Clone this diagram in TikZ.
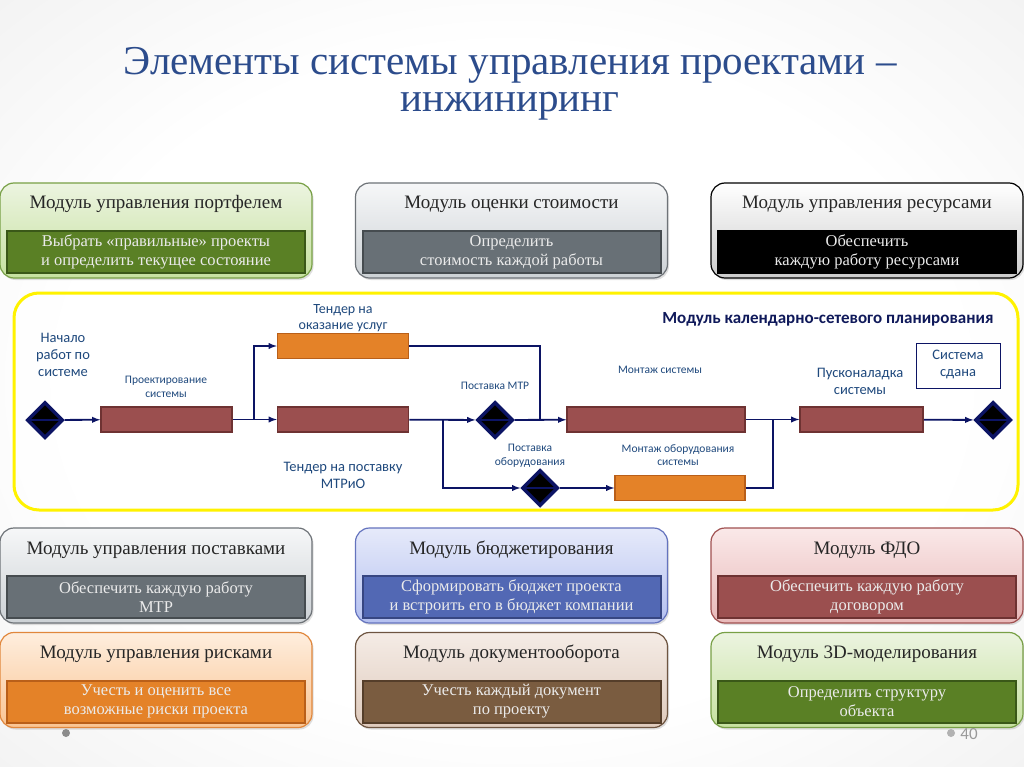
\documentclass[tikz,border=0pt]{standalone}
\usepackage{fontspec}
\setmainfont{Liberation Serif}
\newfontfamily\calib{Carlito}
\usetikzlibrary{shapes.geometric,shadows}
\definecolor{titleblue}{RGB}{44,76,140}
\definecolor{navy}{RGB}{12,20,100}
\definecolor{labblue}{RGB}{31,73,125}
\definecolor{kspblue}{RGB}{15,25,90}
\definecolor{brick}{RGB}{155,79,79}
\definecolor{brickdark}{RGB}{110,50,50}
\definecolor{tangerine}{RGB}{228,130,40}
\definecolor{tangerinedark}{RGB}{185,95,25}
\pgfdeclareradialshading{slidebg}{\pgfpoint{0bp}{0bp}}{%
  color(0bp)=(white); color(22bp)=(white); color(42bp)=(black!7); color(56bp)=(black!16); color(72bp)=(black!24)}
\tikzset{>=latex}
\tikzset{
  modbox/.style = {rounded corners=14, line width=1.2, minimum width=312, minimum height=95,
    inner sep=0, drop shadow={opacity=0.25, shadow xshift=1.5pt, shadow yshift=-2pt}},
  modtitle/.style = {anchor=base, font=\fontsize{19}{22}\selectfont, text=black!85},
  modbar/.style = {minimum width=298, minimum height=42, inner sep=0, line width=2,
    align=center, text=white!92!black, font=\fontsize{16.5}{19}\selectfont},
  greenbox/.style = {top color={rgb,255:red,236;green,244;blue,224}, bottom color={rgb,255:red,198;green,225;blue,160}, draw={rgb,255:red,120;green,160;blue,70}},
  greenbar/.style = {fill={rgb,255:red,90;green,128;blue,37}, draw={rgb,255:red,58;green,88;blue,24}},
  graybox/.style = {top color={rgb,255:red,246;green,247;blue,248}, bottom color={rgb,255:red,204;green,209;blue,213}, draw={rgb,255:red,110;green,115;blue,120}},
  graybar/.style = {fill={rgb,255:red,104;green,112;blue,118}, draw={rgb,255:red,70;green,76;blue,80}},
  blackbox/.style = {top color=white, bottom color=black!20, draw=black},
  blackbar/.style = {fill=black, draw=black},
  bluebox/.style = {top color={rgb,255:red,230;green,234;blue,250}, bottom color={rgb,255:red,180;green,192;blue,240}, draw={rgb,255:red,100;green,115;blue,190}},
  bluebar/.style = {fill={rgb,255:red,82;green,104;blue,180}, draw={rgb,255:red,55;green,70;blue,130}},
  pinkbox/.style = {top color={rgb,255:red,250;green,232;blue,232}, bottom color={rgb,255:red,232;green,185;blue,185}, draw={rgb,255:red,160;green,80;blue,80}},
  pinkbar/.style = {fill=brick, draw=brickdark},
  orangebox/.style = {top color={rgb,255:red,254;green,238;blue,222}, bottom color={rgb,255:red,250;green,196;blue,146}, draw={rgb,255:red,225;green,135;blue,60}},
  orangebar/.style = {fill=tangerine, draw=tangerinedark},
  brownbox/.style = {top color={rgb,255:red,245;green,236;blue,230}, bottom color={rgb,255:red,222;green,202;blue,188}, draw={rgb,255:red,110;green,85;blue,65}},
  brownbar/.style = {fill={rgb,255:red,122;green,92;blue,64}, draw={rgb,255:red,85;green,62;blue,42}},
  task/.style = {rectangle, minimum width=131, minimum height=25, inner sep=0, line width=1.5, fill=brick, draw=brickdark},
  tendertask/.style = {task, fill=tangerine, draw=tangerinedark},
  event/.style = {diamond, minimum size=36, inner sep=0, fill=black, draw=navy, line width=3.5,
    path picture={\draw[navy, line width=1.8] (path picture bounding box.west) -- (path picture bounding box.east);}},
  flow/.style = {draw=navy, line width=1.8},
  biglab/.style = {font=\calib\fontsize{14.5}{17}\selectfont, text=labblue, align=center},
  smalllab/.style = {font=\calib\fontsize{11.5}{13.5}\selectfont, text=labblue, align=center}
}
% module: name, x, y, colour, title, task
\newcommand{\modul}[6]{%
  \node[modbox,#4box] (#1) at (#2,#3) {};
  \node[modtitle] (#1-t) at (#2,#3-21.5) {#5};
  \node[modbar,#4bar] (#1-b) at (#2,#3+21.5) {#6};
}

\begin{document}
\begin{tikzpicture}[x=1pt,y=-1pt]
  \useasboundingbox (0,0) rectangle (1024,767);
  \shade[shading=slidebg] (0,0) rectangle (1024,767);
  % title
  \node[font=\fontsize{41}{37}\selectfont, text=titleblue, align=center] (title) at (510,84)
    {Элементы системы управления проектами –\\инжиниринг};
  % modules
  \modul{portf}{156}{230.5}{green}{Модуль управления портфелем}{Выбрать «правильные» проекты\\и определить текущее состояние}
  \modul{cost}{511.5}{230.5}{gray}{Модуль оценки стоимости}{Определить\\стоимость каждой работы}
  \modul{res}{867}{230.5}{black}{Модуль управления ресурсами}{Обеспечить\\каждую работу ресурсами}
  \modul{supl}{156}{575.5}{gray}{Модуль управления поставками}{Обеспечить каждую работу\\МТР}
  \modul{budg}{511.5}{575.5}{blue}{Модуль бюджетирования}{Сформировать бюджет проекта\\и встроить его в бюджет компании}
  \modul{fdo}{867}{575.5}{pink}{Модуль ФДО}{Обеспечить каждую работу\\договором}
  \modul{risk}{156}{680}{orange}{Модуль управления рисками}{Учесть и оценить все\\возможные риски проекта}
  \modul{docs}{511.5}{680}{brown}{Модуль документооборота}{Учесть каждый документ\\по проекту}
  \modul{model}{867}{680}{green}{Модуль 3D-моделирования}{Определить структуру\\объекта}
  % network planning
  \node[draw=yellow, line width=3, rounded corners=25, minimum width=1004, minimum height=217,
    fill=white, fill opacity=0.55] (ksp) at (516,401.5) {};
  \node[anchor=east, font=\calib\bfseries\fontsize{17}{20}\selectfont, text=kspblue] (ksptitle) at (997,319)
    {Модуль календарно-сетевого планирования};
  \node[event] (start) at (45,420) {};
  \node[task] (design) at (166.5,419.5) {};
  \node[tendertask] (tserv) at (343,346) {};
  \node[task] (tsup) at (343,419.5) {};
  \node[event] (mtr) at (495,420) {};
  \node[event] (equip) at (540,488) {};
  \node[task, minimum width=178] (mont) at (656,419.5) {};
  \node[tendertask, minimum width=130] (meq) at (680,488) {};
  \node[task, minimum width=123] (pnr) at (861.5,419.5) {};
  \node[event] (finish) at (993,420) {};
  \node[draw=navy, line width=0.8, fill=white, minimum width=84, minimum height=45] (done) at (958,365.5) {};
  \coordinate (split1) at (254,419.5);
  \coordinate (split2) at (443,419.5);
  \coordinate (join1) at (540,419.5);
  \coordinate (join2) at (773,419.5);
  \draw[flow,->] (start) -- (design);
  \draw[flow] (design) -- (split1);
  \draw[flow,->] (split1) |- (tserv);
  \draw[flow,->] (split1) -- (tsup);
  \draw[flow,->] (tsup) -- (mtr);
  \draw[flow,->] (split2) |- (equip);
  \draw[flow] (tserv) -| (join1);
  \draw[flow,->] (mtr) -- (mont);
  \draw[flow,->] (equip) -- (meq);
  \draw[flow] (mont) -- (join2);
  \draw[flow] (meq) -| (join2);
  \draw[flow,->] (join2) -- (pnr);
  \draw[flow,->] (pnr) -- (finish);
  % labels
  \node[biglab] (l-start) at (63,355) {Начало\\работ по\\системе};
  \node[smalllab] (l-design) at (166,387) {Проектирование\\системы};
  \node[biglab, font=\calib\fontsize{14}{16}\selectfont] (l-tserv) at (343,318) {Тендер на\\оказание услуг};
  \node[biglab] (l-tsup) at (343,475) {Тендер на поставку\\МТРиО};
  \node[smalllab] (l-mtr) at (495,386) {Поставка МТР};
  \node[smalllab] (l-mont) at (660,370) {Монтаж системы};
  \node[smalllab] (l-equip) at (530,456) {Поставка\\оборудования};
  \node[smalllab] (l-meq) at (678,455) {Монтаж оборудования\\системы};
  \node[biglab] (l-pnr) at (860,381) {Пусконаладка\\системы};
  \node[biglab] (l-done) at (958,364) {Система\\сдана};
  % footer
  \fill[black!45] (66,733) circle (4);
  \fill[black!30] (951,733) circle (4);
  \node[font=\calib\fontsize{17}{17}\selectfont, text=black!40] (page) at (969,734) {40};
\end{tikzpicture}
\end{document}
